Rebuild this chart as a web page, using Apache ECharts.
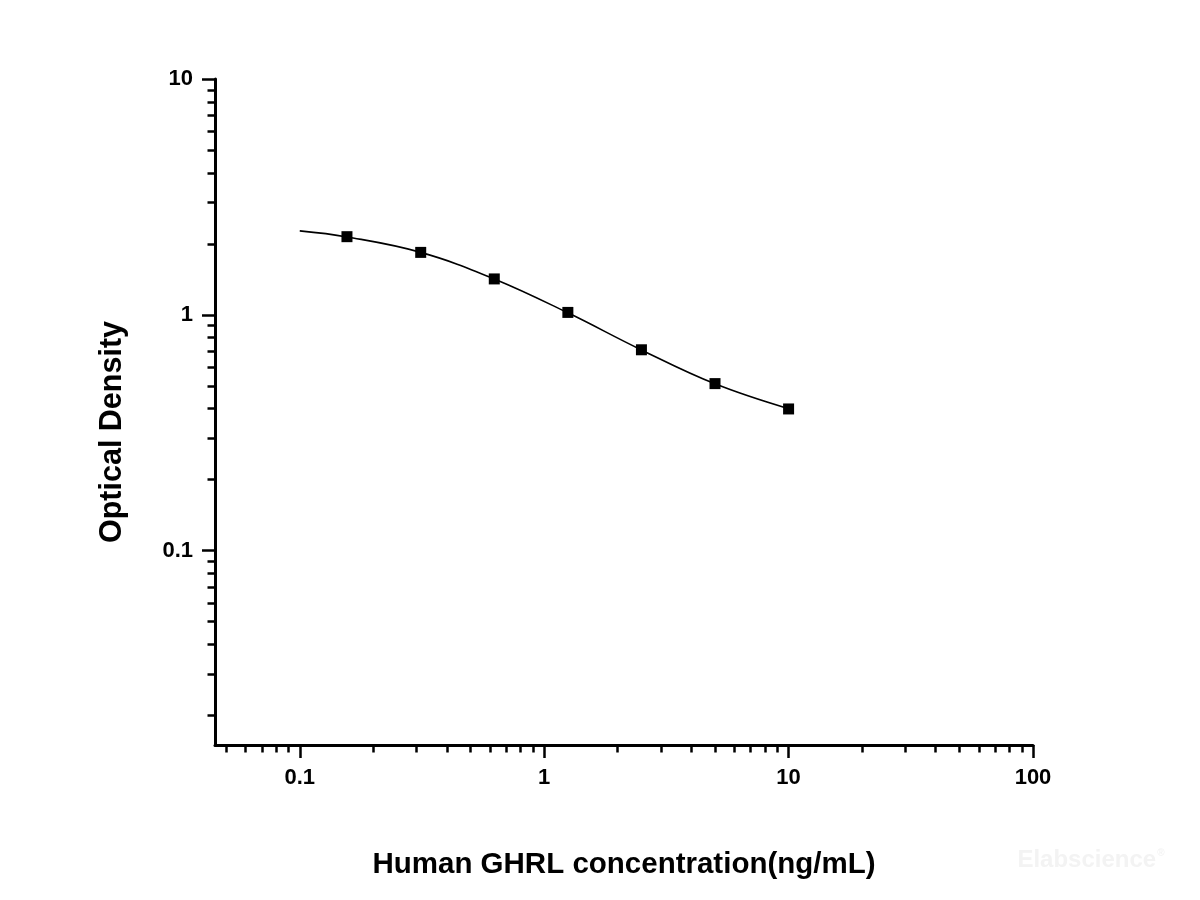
<!DOCTYPE html>
<html>
<head>
<meta charset="utf-8">
<title>Human GHRL standard curve</title>
<script src="https://cdn.jsdelivr.net/npm/echarts@6/dist/echarts.min.js"></script>
<style>
  html, body { margin: 0; padding: 0; background: #fff; }
  #chart { width: 1200px; height: 900px; }
</style>
</head>
<body>
<div id="chart"></div>
<script>
// standard points (concentration ng/mL, OD)
var concentration = [0.156, 0.3125, 0.625, 1.25, 2.5, 5, 10];
var od = [2.145, 1.84, 1.42, 1.024, 0.711, 0.511, 0.399];

// fitted curve
var curveX = [0.1, 0.156, 0.3125, 0.625, 1.25, 2.5, 5, 10];
var curveY = [2.27, 2.14, 1.84, 1.42, 1.02, 0.71, 0.51, 0.40];

// tick values
var xMajorTicks = [0.1, 1, 10, 100];
var xMinorTicks = [0.05, 0.06, 0.07, 0.08, 0.09,
  0.2, 0.3, 0.4, 0.5, 0.6, 0.7, 0.8, 0.9,
  2, 3, 4, 5, 6, 7, 8, 9,
  20, 30, 40, 50, 60, 70, 80, 90];
var yMajorTicks = [0.1, 1, 10];
var yMinorTicks = [0.02, 0.03, 0.04, 0.05, 0.06, 0.07, 0.08, 0.09,
  0.2, 0.3, 0.4, 0.5, 0.6, 0.7, 0.8, 0.9,
  2, 3, 4, 5, 6, 7, 8, 9];

var xRange = [0.045, 100];
var yRange = [0.015, 10];

var chart = echarts.init(document.getElementById('chart'));

var font = 'Liberation Sans, Arial, sans-serif';
var black = '#000';

function majorAxis(range, ticks, name) {
  return {
    type: 'log',
    logBase: 10,
    min: range[0],
    max: range[1],
    name: name,
    nameLocation: 'middle',
    nameGap: 100,
    nameTextStyle: { fontFamily: font, fontWeight: 'bold', fontSize: 29.5, color: black },
    axisLine: { show: true, onZero: false, lineStyle: { color: black, width: 3 } },
    axisTick: { show: true, inside: false, length: 13, customValues: ticks,
      lineStyle: { color: black, width: 2.5 } },
    axisLabel: { show: true, customValues: ticks, margin: 22,
      fontFamily: font, fontWeight: 'bold', fontSize: 22, color: black,
      formatter: function (v) { return String(v); } },
    splitLine: { show: false },
    minorTick: { show: false },
    minorSplitLine: { show: false }
  };
}

function minorAxis(range, ticks, pos) {
  return {
    type: 'log',
    logBase: 10,
    min: range[0],
    max: range[1],
    position: pos,
    offset: 0,
    axisLine: { show: false, onZero: false },
    axisTick: { show: true, inside: false, length: 7.5, customValues: ticks,
      lineStyle: { color: black, width: 2.5 } },
    axisLabel: { show: false },
    splitLine: { show: false }
  };
}

var xMain = majorAxis(xRange, xMajorTicks, 'Human GHRL concentration(ng/mL)');
xMain.position = 'bottom';
xMain.nameGap = 105;

var yMain = majorAxis(yRange, yMajorTicks, '');
yMain.position = 'left';

var option = {
  backgroundColor: '#fff',
  animation: false,
  grid: { left: 215, right: 167, top: 79, bottom: 155, containLabel: false },
  xAxis: [xMain, minorAxis(xRange, xMinorTicks, 'bottom')],
  yAxis: [yMain, minorAxis(yRange, yMinorTicks, 'left')],
  graphic: [
    {
      type: 'text',
      x: 113, y: 432,
      rotation: Math.PI / 2,
      style: {
        text: 'Optical Density',
        font: 'bold 30.5px ' + font,
        fill: black,
        align: 'center',
        verticalAlign: 'middle'
      }
    },
    {
      type: 'text',
      x: 1091, y: 860,
      style: {
        text: '{a|Elabscience}{b|\u00ae}',
        rich: {
          a: { font: 'bold 24px ' + font, fill: '#f3f3f3', verticalAlign: 'middle' },
          b: { font: 'bold 10px ' + font, fill: '#f3f3f3', verticalAlign: 'top', padding: [0, 0, 14, 1] }
        },
        align: 'center',
        verticalAlign: 'middle'
      }
    }
  ],
  series: [
    {
      name: 'fit',
      type: 'line',
      smooth: 0.4,
      symbol: 'none',
      data: curveX.map(function (x, i) { return [x, curveY[i]]; }),
      lineStyle: { color: black, width: 1.6 },
      z: 2
    },
    {
      name: 'standard',
      type: 'scatter',
      symbol: 'rect',
      symbolSize: 11,
      data: concentration.map(function (x, i) { return [x, od[i]]; }),
      itemStyle: { color: black, opacity: 1 },
      z: 3
    }
  ]
};

chart.setOption(option);
</script>
</body>
</html>
